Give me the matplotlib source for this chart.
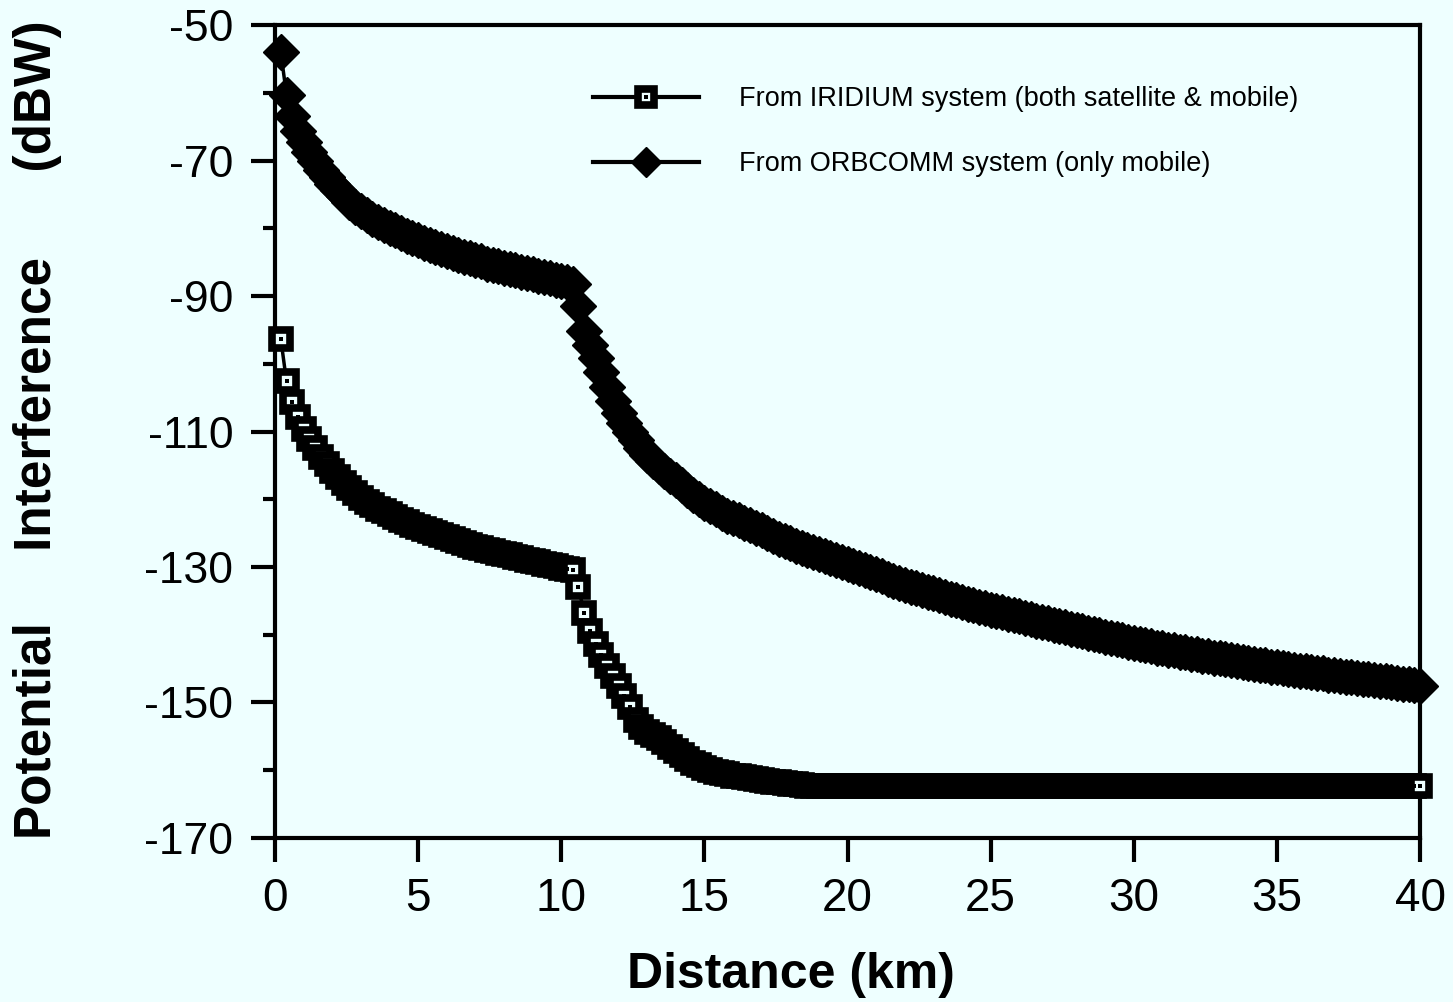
import matplotlib
matplotlib.use("Agg")
import matplotlib.pyplot as plt
import numpy as np
from matplotlib.ticker import MultipleLocator

# distance samples (km), one every 0.2 km
distance_km = np.round(np.arange(0.2, 40.01, 0.2), 1)

# ORBCOMM (only mobile), dBW
orbcomm = [
    -54.0, -60.3, -63.4, -65.6, -67.3, -68.8, -70.1, -71.4, -72.5, -73.5,
    -74.4, -75.3, -76.1, -76.8, -77.5, -78.1, -78.6, -79.1, -79.5, -79.9,
    -80.3, -80.7, -81.1, -81.5, -81.8, -82.1, -82.4, -82.7, -83.0, -83.3,
    -83.6, -83.9, -84.2, -84.4, -84.7, -84.9, -85.2, -85.4, -85.6, -85.8,
    -86.0, -86.2, -86.4, -86.6, -86.8, -87.0, -87.2, -87.4, -87.6, -87.8,
    -88.0, -88.2, -91.5, -95.2, -97.3, -99.2, -101.2, -103.5, -105.5, -107.2,
    -108.7, -110.0, -111.2, -112.4, -113.4, -114.3, -115.1, -115.8, -116.5, -117.2,
    -117.9, -118.6, -119.3, -120.0, -120.5, -121.0, -121.5, -122.0, -122.4, -122.8,
    -123.1, -123.5, -123.8, -124.2, -124.6, -125.0, -125.4, -125.8, -126.1, -126.5,
    -126.9, -127.2, -127.5, -127.8, -128.1, -128.4, -128.7, -129.0, -129.3, -129.6,
    -129.9, -130.2, -130.5, -130.8, -131.1, -131.4, -131.7, -132.0, -132.3, -132.6,
    -132.9, -133.1, -133.4, -133.7, -133.9, -134.2, -134.4, -134.7, -134.9, -135.2,
    -135.4, -135.6, -135.9, -136.1, -136.3, -136.5, -136.7, -136.9, -137.1, -137.3,
    -137.5, -137.7, -137.9, -138.1, -138.3, -138.5, -138.7, -138.9, -139.1, -139.3,
    -139.5, -139.7, -139.9, -140.1, -140.3, -140.5, -140.7, -140.8, -141.0, -141.2,
    -141.4, -141.5, -141.7, -141.9, -142.0, -142.2, -142.3, -142.5, -142.6, -142.8,
    -142.9, -143.1, -143.2, -143.4, -143.5, -143.6, -143.8, -143.9, -144.0, -144.2,
    -144.3, -144.4, -144.5, -144.7, -144.8, -144.9, -145.0, -145.2, -145.3, -145.4,
    -145.5, -145.6, -145.7, -145.9, -146.0, -146.1, -146.2, -146.3, -146.4, -146.5,
    -146.6, -146.7, -146.8, -146.9, -147.0, -147.1, -147.2, -147.3, -147.4, -147.5,
]

# IRIDIUM (both satellite & mobile), dBW
iridium = [
    -96.3, -102.6, -105.7, -107.9, -109.6, -111.1, -112.4, -113.7, -114.8, -115.8,
    -116.7, -117.6, -118.4, -119.1, -119.8, -120.4, -120.9, -121.4, -121.8, -122.2,
    -122.6, -123.0, -123.4, -123.8, -124.1, -124.4, -124.7, -125.0, -125.3, -125.6,
    -125.9, -126.2, -126.5, -126.7, -127.0, -127.2, -127.5, -127.7, -127.9, -128.1,
    -128.3, -128.5, -128.7, -128.9, -129.1, -129.3, -129.5, -129.7, -129.9, -130.1,
    -130.3, -130.5, -133.0, -136.8, -139.4, -141.4, -143.0, -144.6, -146.1, -147.6,
    -149.0, -150.6, -152.6, -153.6, -154.3, -154.8, -155.3, -155.9, -156.5, -157.1,
    -157.7, -158.3, -158.9, -159.3, -159.6, -159.9, -160.2, -160.4, -160.6, -160.8,
    -160.9, -161.0, -161.1, -161.3, -161.5, -161.6, -161.7, -161.8, -161.9, -162.0,
    -162.1, -162.2, -162.3, -162.3, -162.3, -162.3, -162.3, -162.3, -162.3, -162.3,
    -162.3, -162.3, -162.3, -162.3, -162.3, -162.3, -162.3, -162.3, -162.3, -162.3,
    -162.3, -162.3, -162.3, -162.3, -162.3, -162.3, -162.3, -162.3, -162.3, -162.3,
    -162.3, -162.3, -162.3, -162.3, -162.3, -162.3, -162.3, -162.3, -162.3, -162.3,
    -162.3, -162.3, -162.3, -162.3, -162.3, -162.3, -162.3, -162.3, -162.3, -162.3,
    -162.3, -162.3, -162.3, -162.3, -162.3, -162.3, -162.3, -162.3, -162.3, -162.3,
    -162.3, -162.3, -162.3, -162.3, -162.3, -162.3, -162.3, -162.3, -162.3, -162.3,
    -162.3, -162.3, -162.3, -162.3, -162.3, -162.3, -162.3, -162.3, -162.3, -162.3,
    -162.3, -162.3, -162.3, -162.3, -162.3, -162.3, -162.3, -162.3, -162.3, -162.3,
    -162.3, -162.3, -162.3, -162.3, -162.3, -162.3, -162.3, -162.3, -162.3, -162.3,
    -162.3, -162.3, -162.3, -162.3, -162.3, -162.3, -162.3, -162.3, -162.3, -162.3,
]

labels = ["From IRIDIUM system (both satellite & mobile)",
          "From ORBCOMM system (only mobile)"]
xticks = [0, 5, 10, 15, 20, 25, 30, 35, 40]
yticks = [-50, -70, -90, -110, -130, -150, -170]

bg = "#eeffff"
plt.rcParams["font.family"] = ["Liberation Sans", "DejaVu Sans"]
plt.rcParams["axes.unicode_minus"] = False

fig = plt.figure(figsize=(14.53, 10.02), dpi=100, facecolor=bg)
ax = fig.add_axes([0.1893, 0.1637, 0.788, 0.8113])
ax.set_facecolor(bg)

h_orb, = ax.plot(distance_km, orbcomm, color="black", lw=2.5, marker="D",
                 ms=18, mfc="black", mec="black", mew=1,
                 clip_on=False, zorder=3)
h_iri, = ax.plot(distance_km, iridium, color="black", lw=2.5, marker="s",
                 ms=13.5, mfc=bg, mec="black", mew=5.5,
                 clip_on=False, zorder=3)
h_dot, = ax.plot(distance_km, iridium, ls="none", marker="s", ms=3,
                 mfc="black", mec="black", mew=0, clip_on=False, zorder=3.1)

ax.set_xlim(0, 40)
ax.set_ylim(-170, -50)
ax.set_xticks(xticks)
ax.set_yticks(yticks)
ax.yaxis.set_minor_locator(MultipleLocator(10))
ax.tick_params(axis="both", direction="out", width=3, color="black")
ax.tick_params(axis="x", length=17, pad=11, labelsize=33)
ax.tick_params(axis="y", which="major", length=17, pad=13, labelsize=32)
ax.tick_params(axis="y", which="minor", length=9, width=3)
for s in ax.spines.values():
    s.set_linewidth(3)

ax.set_xlabel("Distance (km)", fontsize=36, fontweight="bold")
ax.xaxis.set_label_coords(0.451, -0.14)
ax.set_ylabel("Potential     Interference      (dBW)", fontsize=37,
              fontweight="bold")
ax.yaxis.set_label_coords(-0.186, 0.502)

leg = ax.legend([(h_iri, h_dot), h_orb], labels, loc="upper left",
                bbox_to_anchor=(0.2777, 0.925), frameon=False, fontsize=19.5,
                handlelength=3.9, handletextpad=1.5, labelspacing=1.45,
                borderpad=0, borderaxespad=0, markerscale=0.85)
for line in leg.get_lines():
    line.set_linewidth(3)

fig.savefig("out.png", dpi=100, facecolor=bg)
